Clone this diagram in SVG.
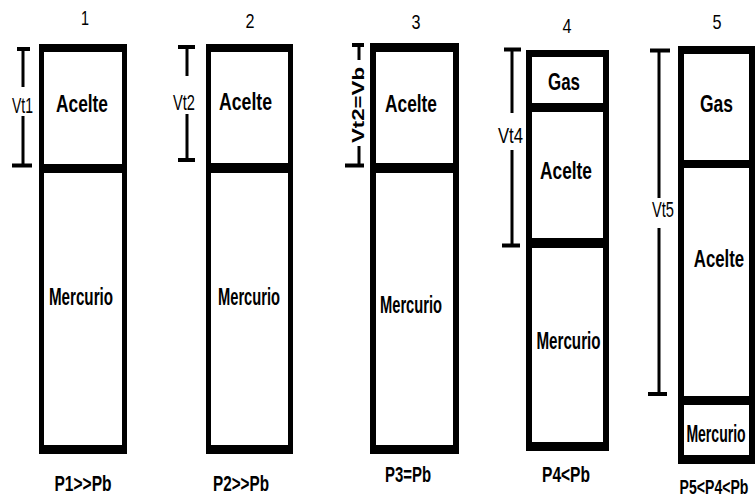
<svg xmlns="http://www.w3.org/2000/svg" width="755" height="500" viewBox="0 0 755 500">
<style>
.b{fill:#000}
.t{font-family:"Liberation Sans",Arial,sans-serif;fill:#000;text-anchor:middle}
.lbl{font-size:24px;font-weight:bold}
.mer{font-size:23px;font-weight:bold}
.p{font-size:22px;font-weight:bold}
.vt{font-size:22px}
.hd{font-size:21px}
.dim{stroke:#000;stroke-width:3;fill:none}
.tick{stroke:#000;stroke-width:4;fill:none}
</style>
<rect width="755" height="500" fill="#fff"/>

<g id="col1">
<rect class="b" x="39" y="44" width="5" height="410"/>
<rect class="b" x="122" y="44" width="5" height="410"/>
<rect class="b" x="39" y="44" width="88" height="8"/>
<rect class="b" x="39" y="164" width="88" height="9"/>
<rect class="b" x="39" y="445" width="88" height="9"/>
<text class="t hd" x="85" y="25" textLength="8" lengthAdjust="spacingAndGlyphs">1</text>
<text class="t lbl" x="82" y="112" textLength="52" lengthAdjust="spacingAndGlyphs">Acelte</text>
<text class="t mer" x="81" y="305" textLength="64" lengthAdjust="spacingAndGlyphs">Mercurio</text>
<text class="t p" x="83" y="491" textLength="57" lengthAdjust="spacingAndGlyphs">P1&gt;&gt;Pb</text>
</g>

<g id="col2">
<rect class="b" x="206" y="44" width="5" height="410"/>
<rect class="b" x="288" y="44" width="5" height="410"/>
<rect class="b" x="206" y="44" width="87" height="8"/>
<rect class="b" x="206" y="163" width="87" height="10"/>
<rect class="b" x="206" y="445" width="87" height="9"/>
<text class="t hd" x="250" y="28" textLength="9" lengthAdjust="spacingAndGlyphs">2</text>
<text class="t lbl" x="245.5" y="110" textLength="53" lengthAdjust="spacingAndGlyphs">Acelte</text>
<text class="t mer" x="249" y="305" textLength="62" lengthAdjust="spacingAndGlyphs">Mercurio</text>
<text class="t p" x="241" y="491" textLength="56" lengthAdjust="spacingAndGlyphs">P2&gt;&gt;Pb</text>
</g>

<g id="col3">
<rect class="b" x="370" y="43" width="6" height="411"/>
<rect class="b" x="453" y="43" width="6" height="411"/>
<rect class="b" x="370" y="43" width="89" height="9"/>
<rect class="b" x="370" y="163" width="89" height="10"/>
<rect class="b" x="370" y="445" width="89" height="9"/>
<text class="t hd" x="416" y="29" textLength="9" lengthAdjust="spacingAndGlyphs">3</text>
<text class="t lbl" x="411" y="112" textLength="52" lengthAdjust="spacingAndGlyphs">Acelte</text>
<text class="t mer" x="411" y="313" textLength="62" lengthAdjust="spacingAndGlyphs">Mercurio</text>
<text class="t p" x="408" y="482" textLength="46" lengthAdjust="spacingAndGlyphs">P3=Pb</text>
</g>

<g id="col4">
<rect class="b" x="526" y="50" width="6" height="401"/>
<rect class="b" x="603" y="50" width="6" height="401"/>
<rect class="b" x="526" y="50" width="83" height="7"/>
<rect class="b" x="526" y="103" width="83" height="9"/>
<rect class="b" x="526" y="238" width="83" height="10"/>
<rect class="b" x="526" y="442" width="83" height="9"/>
<text class="t hd" x="567" y="33" textLength="9" lengthAdjust="spacingAndGlyphs">4</text>
<text class="t lbl" x="564" y="90" textLength="32" lengthAdjust="spacingAndGlyphs">Gas</text>
<text class="t lbl" x="566" y="179" textLength="52" lengthAdjust="spacingAndGlyphs">Acelte</text>
<text class="t mer" x="568.5" y="349" textLength="64" lengthAdjust="spacingAndGlyphs">Mercurio</text>
<text class="t p" x="566" y="482" textLength="48" lengthAdjust="spacingAndGlyphs">P4&lt;Pb</text>
</g>

<g id="col5">
<rect class="b" x="678" y="46" width="6" height="418"/>
<rect class="b" x="749" y="46" width="6" height="418"/>
<rect class="b" x="678" y="46" width="77" height="8"/>
<rect class="b" x="678" y="160" width="77" height="8"/>
<rect class="b" x="678" y="396" width="77" height="9"/>
<rect class="b" x="678" y="455" width="77" height="9"/>
<text class="t hd" x="717" y="29" textLength="9" lengthAdjust="spacingAndGlyphs">5</text>
<text class="t lbl" x="716.5" y="112" textLength="33" lengthAdjust="spacingAndGlyphs">Gas</text>
<text class="t lbl" transform="translate(719,267) scale(0.7,1)">Acelte</text>
<text class="t mer" transform="translate(716,442) scale(0.61,1)">Mercurio</text>
<text class="t" font-size="21" font-weight="bold" transform="translate(714,494) scale(0.67,1)">P5&lt;P4&lt;Pb</text>
</g>

<g id="dimensions">
<path class="dim" d="M23 49V87M23 116V165"/>
<path class="tick" d="M17 49H30M12 165.5H32"/>
<text class="t vt" x="22.5" y="113" textLength="21" lengthAdjust="spacingAndGlyphs">Vt1</text>

<path class="dim" d="M187 47V76M187 114V160"/>
<path class="tick" d="M178 47H195M178 160H195"/>
<text class="t vt" x="184" y="110" textLength="22" lengthAdjust="spacingAndGlyphs">Vt2</text>

<path class="dim" d="M359 45V60M359 146V165"/>
<path class="tick" d="M352 45H364M345 165.5H364"/>
<text class="t" font-size="17" font-weight="bold" transform="translate(364,105) rotate(-90)" textLength="76" lengthAdjust="spacingAndGlyphs">Vt2=Vb</text>

<path class="dim" d="M512 49V113M512 150V245"/>
<path class="tick" d="M504 49.5H521M502 245.5H520"/>
<text class="t vt" x="510.5" y="143" textLength="25" lengthAdjust="spacingAndGlyphs">Vt4</text>

<path class="dim" d="M659 50V198M659 228V394"/>
<path class="tick" d="M650 50.5H670M648 394H667"/>
<text class="t vt" x="663" y="217" textLength="22" lengthAdjust="spacingAndGlyphs">Vt5</text>
</g>
</svg>
